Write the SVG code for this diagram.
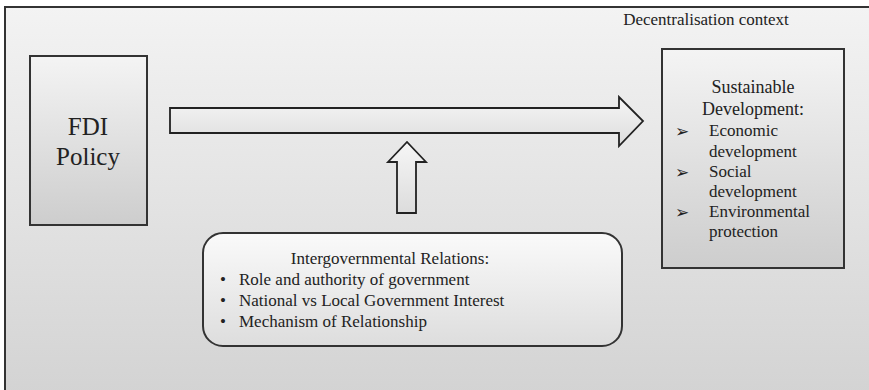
<svg xmlns="http://www.w3.org/2000/svg" width="869" height="390" viewBox="0 0 869 390">
<defs>
<linearGradient id="gFrame" x1="0" y1="0" x2="0" y2="1"><stop offset="0" stop-color="#f3f3f3"/><stop offset="1" stop-color="#d2d2d2"/></linearGradient>
<linearGradient id="gBox" x1="0" y1="0" x2="0" y2="1"><stop offset="0" stop-color="#f4f4f4"/><stop offset="1" stop-color="#cdcdcd"/></linearGradient>
<linearGradient id="gArrow" x1="0" y1="0" x2="0" y2="1"><stop offset="0" stop-color="#f6f6f6"/><stop offset="1" stop-color="#dcdcdc"/></linearGradient>
<linearGradient id="gRound" x1="0" y1="0" x2="0" y2="1"><stop offset="0" stop-color="#fafafa"/><stop offset="1" stop-color="#dddddd"/></linearGradient>
</defs>
<style>
.t{font-family:"Liberation Serif","Times New Roman",serif;fill:#222;font-size:17px}
.big{font-family:"Liberation Serif","Times New Roman",serif;fill:#222;font-size:25px}
.box{stroke:#333;stroke-width:2}
.arr{fill:url(#gArrow);stroke:#222;stroke-width:1.8;stroke-linejoin:miter}
.mk{font-family:"DejaVu Sans",sans-serif;font-size:17px;fill:#222}
</style>
<rect x="5" y="7" width="900" height="400" fill="url(#gFrame)" stroke="#333" stroke-width="2"/>
<text class="t" x="706" y="25" text-anchor="middle">Decentralisation context</text>

<g id="fdi">
<rect class="box" x="30" y="56" width="117" height="169" fill="url(#gBox)"/>
<text class="big" x="88" y="135" text-anchor="middle">FDI</text>
<text class="big" x="88" y="165" text-anchor="middle">Policy</text>
</g>

<g id="sd">
<rect class="box" x="662" y="49" width="182" height="219" fill="url(#gBox)"/>
<text class="t" x="753" y="93" text-anchor="middle" style="font-size:18px">Sustainable</text>
<text class="t" x="753" y="115" text-anchor="middle" style="font-size:18px">Development:</text>
<text class="mk" x="675" y="137">➢</text>
<text class="t" x="709" y="136">Economic</text>
<text class="t" x="709" y="157">development</text>
<text class="mk" x="675" y="178">➢</text>
<text class="t" x="709" y="177">Social</text>
<text class="t" x="709" y="197">development</text>
<text class="mk" x="675" y="218">➢</text>
<text class="t" x="709" y="217">Environmental</text>
<text class="t" x="709" y="237">protection</text>
</g>

<g id="igr">
<rect class="box" x="203" y="233" width="419" height="113" rx="20" ry="20" fill="url(#gRound)"/>
<text class="t" x="390" y="264" text-anchor="middle">Intergovernmental Relations:</text>
<text class="t" x="220" y="285">•</text>
<text class="t" x="239" y="285">Role and authority of government</text>
<text class="t" x="220" y="306">•</text>
<text class="t" x="239" y="306">National vs Local Government Interest</text>
<text class="t" x="220" y="327">•</text>
<text class="t" x="239" y="327">Mechanism of Relationship</text>
</g>

<g id="connectors">
<polygon class="arr" points="170,108 619,108 619,97 643,121 619,146 619,133 170,133"/>
<polygon class="arr" points="397,213 416,213 416,162 426,162 407,142 388,162 397,162"/>
</g>
</svg>
